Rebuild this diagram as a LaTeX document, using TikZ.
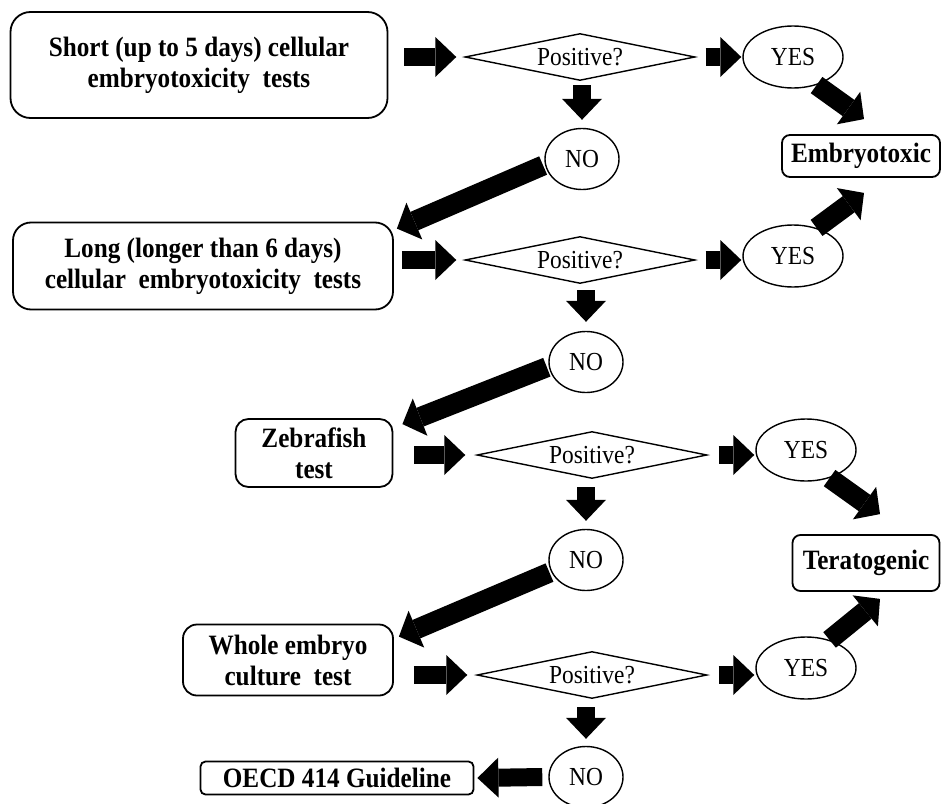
\documentclass[tikz,border=0pt]{standalone}
\usepackage{fontspec}
\setmainfont[FakeStretch=0.9]{Liberation Serif}
\usetikzlibrary{arrows.meta,shapes.geometric,calc}
\begin{document}
\begin{tikzpicture}[x=1pt,y=-1pt,
  box/.style={draw,line width=1.8pt,align=center,inner sep=0pt,
    font=\fontsize{28}{31}\selectfont\bfseries},
  dec/.style={draw,diamond,line width=1.4pt,inner sep=0pt,aspect=4.8,
    minimum width=230,minimum height=47,font=\fontsize{26}{28}\selectfont},
  ans/.style={draw,ellipse,line width=1.4pt,inner sep=0pt,
    font=\fontsize{26}{28}\selectfont},
  yesnode/.style={ans,minimum width=100,minimum height=62},
  nonode/.style={ans,minimum width=74,minimum height=61},
  blk/.style={line width=18pt,-{Triangle[width=40pt,length=21pt,line width=0pt]}},
  bdiag/.style={line width=20pt,-{Triangle[width=40pt,length=19pt,line width=0pt]}}]
\fill[white] (0,0) rectangle (942,803);
\useasboundingbox (0,0) rectangle (942,803);

% nodes
\node[box,rounded corners=20pt,minimum width=377,minimum height=106] (b1) at (199,65)
  {Short (up to 5 days) cellular\\embryotoxicity\ \ tests};
\node[dec] (d1) at (580,57) {Positive?};
\node[yesnode] (y1) at (793,57) {YES};
\node[box,rounded corners=8pt,minimum width=158,minimum height=42] (emb) at (861,156) {Embryotoxic};
\node[nonode] (n1) at (582,159) {NO};

\node[box,rounded corners=18pt,minimum width=380,minimum height=87] (b2) at (203,266)
  {Long (longer\ than\ 6 days)\\cellular\ \ embryotoxicity\ \ tests};
\node[dec] (d2) at (580,260) {Positive?};
\node[yesnode] (y2) at (793,256) {YES};
\node[nonode] (n2) at (586,362) {NO};

\node[box,rounded corners=13pt,minimum width=157,minimum height=68] (zeb) at (314,453)
  {Zebrafish\\test};
\node[dec] (d3) at (592,455) {Positive?};
\node[yesnode] (y3) at (806,450) {YES};
\node[box,rounded corners=8pt,minimum width=147,minimum height=56] (ter) at (866,563) {Teratogenic};
\node[nonode] (n3) at (586,560) {NO};

\node[box,rounded corners=14pt,minimum width=210,minimum height=71] (who) at (288,660)
  {Whole embryo\\culture\ \ test};
\node[dec] (d4) at (592,675) {Positive?};
\node[yesnode] (y4) at (806,668) {YES};
\node[nonode] (n4) at (586,777) {NO};
\node[box,rounded corners=5pt,minimum width=273,minimum height=33] (oecd) at (337,778)
  {OECD 414 Guideline};

% row 1
\draw[blk] ($(b1.east|-d1)+(16,0)$) -- ($(d1.west)+(-8,0)$);
\draw[blk] ($(d1.east)+(10,0)$) -- ($(y1.west|-d1)+(-1,0)$);
\draw[blk] ($(n1.north|-d1.south)+(0,4)$) -- ($(n1.north)+(0,-8)$);
\draw[bdiag] ($(n1.190)+(-2,0)$) -- ($(b2.north east)+(3,7)$);
\draw[bdiag] (y1.-50) -- ($(emb.north)+(3,-15)$);
% row 2
\draw[blk] ($(b2.east|-d2)+(8,0)$) -- ($(d2.west)+(-8,0)$);
\draw[blk] ($(d2.east)+(10,0)$) -- ($(y2.west|-d2)+(-1,0)$);
\draw[bdiag] (y2.50) -- ($(emb.south)+(3,15)$);
\draw[blk] ($(n2.north|-d2.south)+(0,6)$) -- ($(n2.north)+(0,-9)$);
\draw[bdiag] ($(n2.188)+(-2,0)$) -- ($(zeb.north east)+(9,6)$);
% row 3
\draw[blk] ($(zeb.east|-d3)+(21,0)$) -- ($(d3.west)+(-11,0)$);
\draw[blk] ($(d3.east)+(11,0)$) -- ($(y3.west|-d3)+(-1,0)$);
\draw[bdiag] (y3.-50) -- ($(ter.north)+(14,-20)$);
\draw[blk] ($(n3.north|-d3.south)+(0,8)$) -- ($(n3.north)+(0,-8)$);
\draw[bdiag] ($(n3.200)+(-2,0)$) -- ($(who.north east)+(5,13)$);
% row 4
\draw[blk] ($(who.east|-d4)+(20,0)$) -- ($(d4.west)+(-9,0)$);
\draw[blk] ($(d4.east)+(11,0)$) -- ($(y4.west|-d4)+(-1,0)$);
\draw[bdiag] (y4.50) -- ($(ter.south)+(14,7)$);
\draw[blk] ($(n4.north|-d4.south)+(0,8)$) -- ($(n4.north)+(0,-7)$);
\draw[blk] ($(n4.west)+(-6,0)$) -- ($(oecd.east)+(3,0)$);
\end{tikzpicture}
\end{document}
